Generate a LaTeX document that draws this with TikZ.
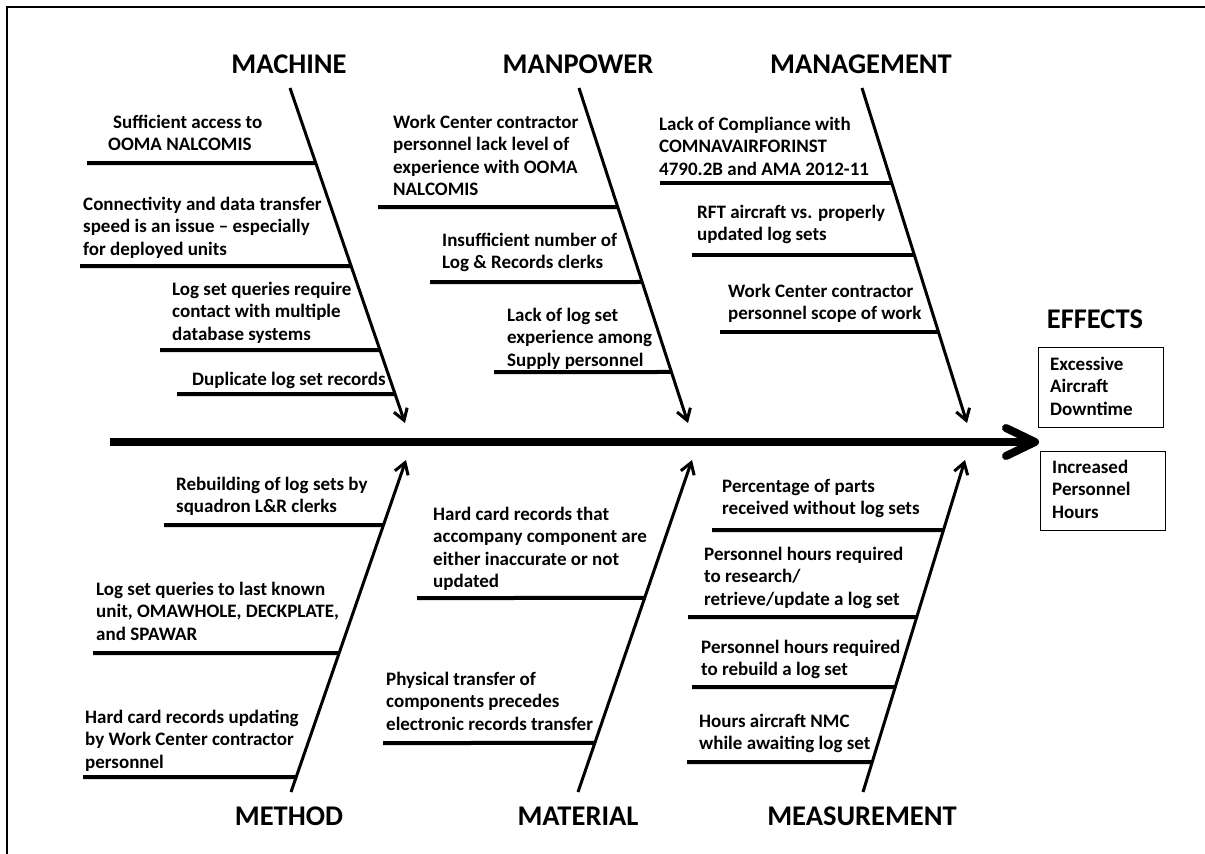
\documentclass[tikz,border=0pt]{standalone}
\usepackage{fontspec}
\setmainfont{Carlito}
\usetikzlibrary{arrows.meta}
\tikzset{
  txt/.style={anchor=base west, inner sep=0pt, align=left, font=\bfseries\fontsize{19}{22.5}\selectfont},
  head/.style={anchor=base, inner sep=0pt, font=\bfseries\fontsize{28.5}{30}\selectfont},
  bone/.style={line width=3pt, -{Straight Barb[length=11pt,width=14pt,line width=3pt]}},
  rib/.style={line width=4pt},
  effbox/.style={draw, line width=1.2pt, minimum width=125pt, minimum height=80pt, inner sep=0pt},
}
\begin{document}
\begin{tikzpicture}[x=1pt,y=-1pt]
\useasboundingbox (0,0) rectangle (1205,854);
\draw[line width=2pt] (7,854) -- (7,7) -- (1205,7);
% spine
\coordinate (sp0) at (110,442);
\coordinate (sp1) at (1035,442);
\draw[line width=8pt] (sp0) -- (1028,442);
\draw[line width=8pt, line cap=round, line join=round] (1006,428) -- (sp1) -- (1006,456);
% headers
\node[head] (hmac) at (289,73) {MACHINE};
\node[head] (hman) at (578,73) {MANPOWER};
\node[head] (hmgt) at (861,73) {MANAGEMENT};
\node[head] (hmet) at (289,825) {METHOD};
\node[head] (hmat) at (578,825) {MATERIAL};
\node[head] (hmea) at (862,825) {MEASUREMENT};
\node[head] (heff) at (1095,328) {EFFECTS};
% bones
\coordinate (macA) at (290,88);  \coordinate (macB) at (405,423);
\coordinate (manA) at (579,88);  \coordinate (manB) at (688,423);
\coordinate (mgtA) at (862,88);  \coordinate (mgtB) at (967,423);
\coordinate (metA) at (291,792); \coordinate (metB) at (406,460);
\coordinate (matA) at (578,792); \coordinate (matB) at (692,460);
\coordinate (meaA) at (863,792); \coordinate (meaB) at (965,460);
\foreach \b in {mac,man,mgt,met,mat,mea}{\draw[bone] (\b A) -- (\b B);}
% ribs
\foreach \x/\y/\b in {87/163/mac,80/266/mac,160/350/mac,177/394/mac,
  378/207/man,430/282/man,494/372/man,
  660/183/mgt,692/255/mgt,720/332/mgt,
  164/525/met,93/653/met,83/777/met,
  417/598/mat,383/743/mat,
  712/530/mea,688/617/mea,692/687/mea,687/762/mea}{
  \draw[rib] (\x,\y) -- (intersection of {\b A}--{\b B} and {0,\y}--{1,\y});
}
% machine texts (anchored at the baseline of the last line)
\node[txt] (t1) at (108,150.5) {\hspace*{5pt}Sufficient access to\\OOMA NALCOMIS};
\node[txt] (t2) at (83,255) {Connectivity and data transfer\\speed is an issue -- especially\\for deployed units};
\node[txt] (t3) at (172,340) {Log set queries require\\contact with multiple\\database systems};
\node[txt] (t4) at (192,385) {Duplicate log set records};
% manpower texts
\node[txt] (t5) at (393,195.5) {Work Center contractor\\personnel lack level of\\experience with OOMA\\NALCOMIS};
\node[txt] (t6) at (442,268.5) {Insufficient number of\\Log \& Records clerks};
\node[txt] (t7) at (507,366) {Lack of log set\\experience among\\Supply personnel};
% management texts
\node[txt] (t8) at (659,175) {Lack of Compliance with\\COMNAVAIRFORINST\\4790.2B and AMA 2012-11};
\node[txt] (t9) at (697,240.5) {RFT aircraft vs. properly\\updated log sets};
\node[txt] (t10) at (728,319.5) {Work Center contractor\\personnel scope of work};
% method texts
\node[txt] (t11) at (176,512.5) {Rebuilding of log sets by\\squadron L\&R clerks};
\node[txt] (t12) at (96,640) {Log set queries to last known\\unit, OMAWHOLE, DECKPLATE,\\and SPAWAR};
\node[txt] (t13) at (85,768) {Hard card records updating\\by Work Center contractor\\personnel};
% material texts
\node[txt] (t14) at (433,587.5) {Hard card records that\\accompany component are\\either inaccurate or not\\updated};
\node[txt] (t15) at (386,730) {Physical transfer of\\components precedes\\electronic records transfer};
% measurement texts
\node[txt] (t16) at (722,514.5) {Percentage of parts\\received without log sets};
\node[txt] (t17) at (704,605) {Personnel hours required\\to research/\\retrieve/update a log set};
\node[txt] (t18) at (701,675.5) {Personnel hours required\\to rebuild a log set};
\node[txt] (t19) at (699,749.5) {Hours aircraft NMC\\while awaiting log set};
% effects
\node[effbox, anchor=north west] (e1) at (1038,347) {};
\node[txt] (e1t) at (1050,415) {Excessive\\Aircraft\\Downtime};
\node[effbox, anchor=north west, minimum height=79pt] (e2) at (1040,451) {};
\node[txt] (e2t) at (1052,518) {Increased\\Personnel\\Hours};
\end{tikzpicture}
\end{document}
